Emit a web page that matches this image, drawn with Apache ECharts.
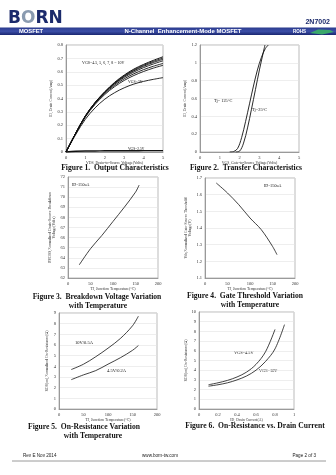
<!DOCTYPE html>
<html>
<head>
<meta charset="utf-8">
<script src="https://cdn.jsdelivr.net/npm/echarts@6/dist/echarts.min.js"></script>
<style>
html,body{margin:0;padding:0;background:#fff;}
#c{width:336px;height:475px;}
</style>
</head>
<body>
<div id="c"></div>
<script>
// Figure 1: output characteristics, ID vs VDS for several gate voltages
const vds = [0, 0.5, 1, 1.5, 2, 2.5, 3, 3.5, 4, 4.5, 5];
const idVgs10 = [0, 0.14, 0.27, 0.37, 0.45, 0.52, 0.575, 0.62, 0.655, 0.685, 0.712];
const idVgs8 = [0, 0.14, 0.27, 0.37, 0.45, 0.515, 0.57, 0.613, 0.648, 0.677, 0.702];
const idVgs7 = [0, 0.14, 0.27, 0.369, 0.448, 0.512, 0.565, 0.607, 0.641, 0.669, 0.693];
const idVgs6 = [0, 0.14, 0.268, 0.366, 0.444, 0.507, 0.558, 0.598, 0.631, 0.658, 0.682];
const idVgs5 = [0, 0.14, 0.266, 0.362, 0.438, 0.498, 0.547, 0.585, 0.616, 0.641, 0.662];
const idVgs45 = [0, 0.138, 0.262, 0.356, 0.43, 0.488, 0.535, 0.572, 0.602, 0.627, 0.648];
const idVgs3 = [0, 0.13, 0.245, 0.33, 0.395, 0.443, 0.48, 0.508, 0.528, 0.543, 0.556];
const idVgs25 = [0, 0.006, 0.008, 0.008, 0.009, 0.009, 0.009, 0.009, 0.01, 0.01, 0.01];

// Figure 2: transfer characteristics
const vgs125 = [1.5, 1.7, 1.9, 2.1, 2.3, 2.5, 2.7, 2.9, 3.1, 3.3, 3.45];
const id125 = [0, 0.005, 0.04, 0.16, 0.34, 0.54, 0.74, 0.92, 1.06, 1.16, 1.2];
const vgs25 = [1.8, 2.0, 2.2, 2.4, 2.6, 2.8, 3.0, 3.2, 3.28];
const id25 = [0, 0.01, 0.1, 0.27, 0.48, 0.7, 0.92, 1.12, 1.2];

// Figure 3 / 4: temperature dependence (ID = 250uA)
const tjBv = [25, 50, 75, 100, 125, 150, 158];
const bvdss = [63.3, 64.9, 66.2, 67.6, 69.0, 70.5, 71.2];
const tjVth = [25, 50, 75, 100, 125, 150, 160];
const vth = [1.67, 1.61, 1.54, 1.46, 1.39, 1.29, 1.24];

// Figure 5: on-resistance vs temperature
const tjRds = [25, 50, 75, 100, 125, 150, 162];
const rds10V = [3.7, 4.2, 4.9, 5.7, 6.6, 7.8, 8.7];
const rds45V = [2.75, 3.2, 3.6, 4.2, 4.8, 5.5, 5.95];

// Figure 6: on-resistance vs drain current
const idA45 = [0.1, 0.2, 0.3, 0.4, 0.5, 0.6, 0.7, 0.8];
const rdsId45 = [2.5, 2.7, 2.95, 3.3, 3.8, 4.6, 5.9, 8.2];
const idA10 = [0.1, 0.2, 0.3, 0.4, 0.5, 0.6, 0.7, 0.8, 0.9];
const rdsId10 = [2.35, 2.5, 2.7, 3.0, 3.4, 4.0, 4.9, 6.2, 8.7];

const zip = (xs, ys) => xs.map((x, i) => [x, ys[i]]);

const chart = echarts.init(document.getElementById('c'), null, {renderer: 'canvas'});

const tickFont = {fontSize: 4.5, color: '#333', fontFamily: 'Liberation Serif', margin: 3};
const nameFont = {fontSize: 3.8, color: '#333', fontFamily: 'Liberation Serif'};

function xAx(grid, min, max, interval, name) {
  return {
    type: 'value', gridIndex: grid, min, max, interval,
    name, nameLocation: 'middle', nameGap: 8, nameTextStyle: nameFont,
    axisLine: {lineStyle: {color: '#888', width: 0.8}},
    axisTick: {show: false},
    axisLabel: tickFont,
    splitLine: {show: false}
  };
}
function yAx(grid, min, max, interval, name, gap) {
  return {
    type: 'value', gridIndex: grid, min, max, interval,
    name, nameLocation: 'middle', nameGap: gap || 12, nameTextStyle: nameFont,
    axisLine: {show: true, lineStyle: {color: '#888', width: 0.8}},
    axisTick: {show: false},
    axisLabel: tickFont,
    splitLine: {show: true, lineStyle: {color: '#e2e2e2', width: 0.6}}
  };
}
function line(grid, data, width) {
  return {
    type: 'line', xAxisIndex: grid, yAxisIndex: grid, data,
    smooth: 0.35, symbol: 'none', silent: true,
    lineStyle: {color: '#111', width: width || 0.8}
  };
}

const gridBox = {show: true, borderColor: '#aaa', borderWidth: 0.8, backgroundColor: '#fff'};
const grids = [
  {left: 66, top: 45, width: 97, height: 107},
  {left: 200, top: 45, width: 99, height: 107},
  {left: 68, top: 177, width: 90, height: 101},
  {left: 205, top: 178, width: 90, height: 100},
  {left: 59, top: 313, width: 98, height: 96},
  {left: 199, top: 312, width: 95, height: 97}
].map(g => Object.assign({}, gridBox, g));

const serif = 'Liberation Serif';
function txt(x, y, text, size, opts) {
  return {
    type: 'text', left: undefined, x, y, silent: true,
    style: Object.assign({text, fontSize: size, fontFamily: serif, fill: '#111',
      textAlign: 'left', textVerticalAlign: 'middle'}, opts || {})
  };
}
function caption(cx, y, text) {
  return txt(cx, y, text, 7.6, {fontWeight: 'bold', textAlign: 'center'});
}

const graphics = [
  // header
  {type: 'text', x: 8, y: 19, silent: true, style: {
    text: '{b|B}{o|O}{b|RN}', textVerticalAlign: 'middle',
    rich: {
      b: {fontSize: 17, fontWeight: 'bold', fontFamily: 'DejaVu Sans', fill: '#1b2a6b', color: '#1b2a6b'},
      o: {fontSize: 17, fontWeight: 'bold', fontFamily: 'DejaVu Sans', fill: '#8a9bb0', color: '#8a9bb0'}
    }}},
  {type: 'text', x: 330, y: 22, silent: true, style: {text: '2N7002', fontSize: 7, fontWeight: 'bold',
    fontFamily: 'Liberation Sans', fill: '#1b2a6b', textAlign: 'right', textVerticalAlign: 'middle'}},
  {type: 'rect', shape: {x: 0, y: 27.5, width: 336, height: 7.5}, silent: true,
    style: {fill: new echarts.graphic.LinearGradient(0, 0, 0, 1, [
      {offset: 0, color: '#2a3a8c'}, {offset: 0.5, color: '#3c4fa8'}, {offset: 1, color: '#1a2670'}])}},
  {type: 'text', x: 19, y: 31.3, silent: true, style: {text: 'MOSFET', fontSize: 5.8, fontWeight: 'bold',
    fontFamily: 'Liberation Sans', fill: '#fff', textVerticalAlign: 'middle'}},
  {type: 'text', x: 183, y: 31.3, silent: true, style: {text: 'N-Channel  Enhancement-Mode MOSFET', fontSize: 6,
    fontWeight: 'bold', fontFamily: 'Liberation Sans', fill: '#fff', textAlign: 'center', textVerticalAlign: 'middle'}},
  {type: 'text', x: 293, y: 31.3, silent: true, style: {text: 'ROHS', fontSize: 4.5, fontWeight: 'bold',
    fontFamily: 'Liberation Sans', fill: '#fff', textVerticalAlign: 'middle'}},
  {type: 'polygon', silent: true, shape: {points: [[310, 33], [318, 29.5], [330, 30], [334, 32], [322, 34.5]]},
    style: {fill: '#3aa86b'}},

  // figure 1 annotations
  txt(82, 63, 'VGS=4.5, 5, 6, 7, 8 = 10V', 4),
  txt(128, 82, 'VGS=3V', 3.8),
  txt(128, 149, 'VGS=2.5V', 3.6),
  caption(115, 168, 'Figure 1.  Output Characteristics'),

  // figure 2 annotations
  txt(214, 101, 'Tj= 125\u00B0C', 4.3),
  txt(252, 110, 'Tj=25\u00B0C', 4.3),
  caption(246, 168, 'Figure 2.  Transfer Characteristics'),

  // figure 3 / 4 annotations
  txt(72, 185, 'ID=250uA', 4),
  caption(97, 297, 'Figure 3.  Breakdown Voltage Variation'),
  caption(98, 306, 'with Temperature'),
  txt(264, 186, 'ID=250uA', 4),
  caption(245, 296, 'Figure 4.  Gate Threshold Variation'),
  caption(250, 305, 'with Temperature'),

  // figure 5 / 6 annotations
  txt(75, 343, '10V/0.5A', 4.5),
  txt(107, 371, '4.5V/0.2A', 4.5),
  caption(84, 427, 'Figure 5.  On-Resistance Variation'),
  caption(93, 436, 'with Temperature'),
  txt(234, 353, 'VGS=4.5V', 4.3),
  txt(259, 371, 'VGS=10V', 4.3),
  caption(255, 426, 'Figure 6.  On-Resistance vs. Drain Current'),

  // footer
  {type: 'text', x: 23, y: 456, silent: true, style: {text: 'Rev E Nov 2014', fontSize: 4.6,
    fontFamily: 'Liberation Sans', fill: '#222', textVerticalAlign: 'middle'}},
  {type: 'text', x: 160, y: 456, silent: true, style: {text: 'www.born-tw.com', fontSize: 4.6,
    fontFamily: 'Liberation Sans', fill: '#222', textAlign: 'center', textVerticalAlign: 'middle'}},
  {type: 'text', x: 316, y: 456, silent: true, style: {text: 'Page 2 of 3', fontSize: 4.6,
    fontFamily: 'Liberation Sans', fill: '#222', textAlign: 'right', textVerticalAlign: 'middle'}},
  {type: 'line', silent: true, shape: {x1: 12, y1: 461, x2: 326, y2: 461},
    style: {stroke: '#9a9a9a', lineWidth: 1}}
];

chart.setOption({
  animation: false,
  grid: grids,
  xAxis: [
    xAx(0, 0, 5, 1, 'VDS, Drain-to-Source Voltage(Volts)'),
    xAx(1, 0, 5, 1, 'VGS, Gate-to-Source Voltage(Volts)'),
    xAx(2, 0, 200, 50, 'TJ, Junction Temperature(\u00B0C)'),
    xAx(3, 0, 200, 50, 'TJ, Junction Temperature(\u00B0C)'),
    xAx(4, 0, 200, 50, 'TJ, Junction Temperature(\u00B0C)'),
    xAx(5, 0, 1, 0.2, 'ID, Drain Current(A)')
  ],
  yAxis: [
    yAx(0, 0, 0.8, 0.1, 'ID, Drain Current(Amp)', 12),
    yAx(1, 0, 1.2, 0.2, 'ID, Drain Current(Amp)', 12),
    yAx(2, 62, 72, 1, 'BVDSS,Normalized Drain-Source Breakdown\nVoltage(Volts)', 12),
    yAx(3, 1.1, 1.7, 0.1, 'Vth,Normalized Gate-Source Threshold\nVoltage(V)', 12),
    yAx(4, 0, 9, 1, 'RDS(on),Normalized On-Resistance(\u03A9)', 10),
    yAx(5, 0, 10, 1, 'RDS(on),On-Resistance(\u03A9)', 10)
  ],
  series: [
    line(0, zip(vds, idVgs10), 1),
    line(0, zip(vds, idVgs8), 0.9),
    line(0, zip(vds, idVgs7), 0.9),
    line(0, zip(vds, idVgs6), 0.9),
    line(0, zip(vds, idVgs5), 0.9),
    line(0, zip(vds, idVgs45), 0.9),
    line(0, zip(vds, idVgs3), 0.9),
    line(0, zip(vds, idVgs25), 1.4),
    line(1, zip(vgs125, id125), 0.9),
    line(1, zip(vgs25, id25), 0.9),
    line(2, zip(tjBv, bvdss), 0.8),
    line(3, zip(tjVth, vth), 0.8),
    line(4, zip(tjRds, rds10V), 0.8),
    line(4, zip(tjRds, rds45V), 0.8),
    line(5, zip(idA45, rdsId45), 0.8),
    line(5, zip(idA10, rdsId10), 0.8)
  ],
  graphic: graphics
});
</script>
</body>
</html>
